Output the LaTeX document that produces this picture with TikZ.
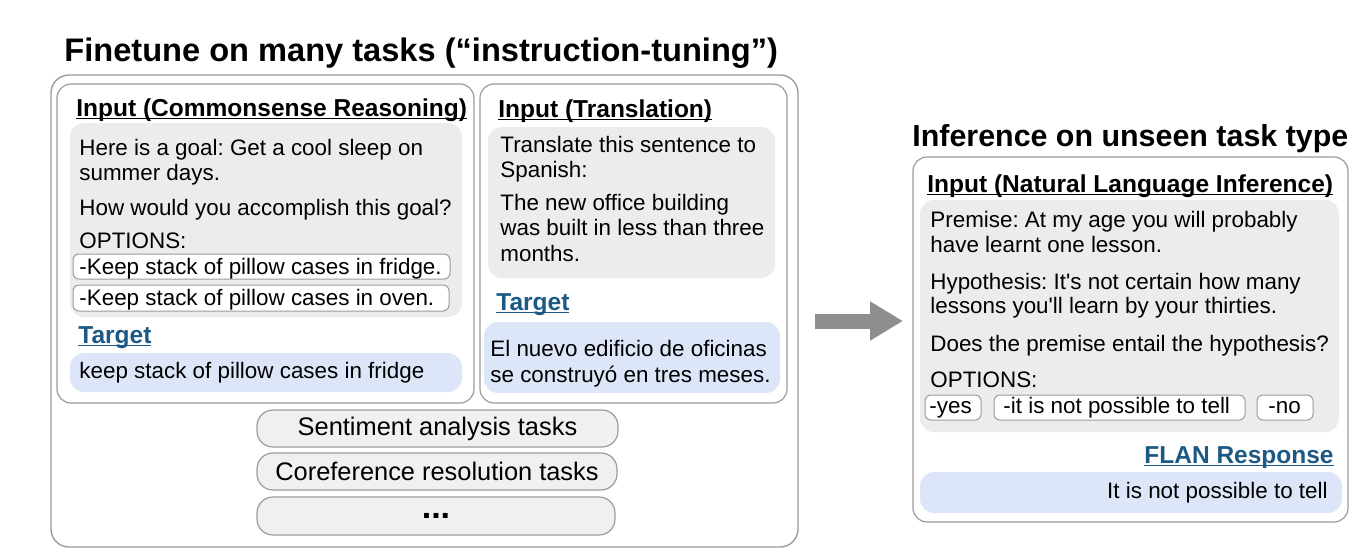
\documentclass[tikz,border=0pt]{standalone}
\usepackage{fontspec}
\setmainfont{Liberation Sans}
\usepackage{tikz}
\usetikzlibrary{fit,arrows.meta}
\frenchspacing
\definecolor{boxgray}{HTML}{ECECEC}
\definecolor{boxblue}{HTML}{DDE6F8}
\definecolor{tgtblue}{HTML}{1C5A85}
\definecolor{edgegray}{HTML}{9C9C9C}
\definecolor{arrgray}{HTML}{8E8E8E}
\newcommand{\ulin}[2][black]{\setbox0\hbox{#2}\rlap{\color{#1}\rule[-1.7pt]{\wd0}{0.75pt}}\box0}
\tikzstyle{outerbox}=[draw=edgegray, line width=0.7pt, fill=white, rounded corners=9pt, inner sep=0pt]
\tikzstyle{inbox}=[draw=edgegray, line width=0.6pt, fill=white, rounded corners=7pt, inner sep=0pt]
\tikzstyle{gr}=[fill=boxgray, rounded corners=7pt, inner sep=0pt]
\tikzstyle{bl}=[fill=boxblue, rounded corners=7pt, inner sep=0pt]
\tikzstyle{opt}=[draw=edgegray, line width=0.5pt, fill=white, rounded corners=3pt, inner sep=0pt]
\tikzstyle{task}=[draw=edgegray, line width=0.6pt, fill=boxgray!80, rounded corners=8pt, inner sep=0pt, font=\fontsize{12.7}{15}\selectfont]
\tikzstyle{txt}=[anchor=base west, inner sep=0pt, font=\fontsize{11.2}{13}\selectfont]
\tikzstyle{hd}=[anchor=base west, inner sep=0pt, font=\fontsize{12.25}{14}\selectfont\bfseries]
\tikzstyle{ttl}=[anchor=base west, inner sep=0pt, font=\bfseries]
\tikzstyle{bigarrow}=[arrgray, line width=7.5pt, -{Triangle[length=16.5pt, width=18.5pt]}]

\begin{document}
\begin{tikzpicture}[x=0.5pt, y=-0.5pt]
        \path[fill=white, use as bounding box] (0, 0) rectangle (1370, 558);

        \node[ttl, font=\fontsize{16.3}{19}\selectfont\bfseries] (ttlL) at (64, 61) {Finetune on many tasks (“instruction-tuning”)};
        \node[outerbox, fit={(51, 75) (798, 547)}] (outer) {};
        \node[inbox, fit={(57, 84) (474, 403)}] (csbox) {};
        \node[inbox, fit={(480, 84) (787, 403)}] (trbox) {};

        \node[hd] (cshd) at (76, 116) {\ulin{Input (Commonsense Reasoning)}};
        \node[gr, fit={(70, 123) (462, 317)}] (csin) {};
        \node[txt] (cs1) at (79, 155) {Here is a goal: Get a cool sleep on};
        \node[txt] (cs2) at (79, 180) {summer days.};
        \node[txt] (cs3) at (79, 215) {How would you accomplish this goal?};
        \node[txt] (cs4) at (79, 248) {OPTIONS:};
        \node[opt, fit={(73, 254) (450, 279)}] (csopA) {};
        \node[opt, fit={(73, 285) (449, 311)}] (csopB) {};
        \node[txt] (csA) at (79, 274) {-Keep stack of pillow cases in fridge.};
        \node[txt] (csB) at (79, 305) {-Keep stack of pillow cases in oven.};
        \node[hd, text=tgtblue] (cstg) at (78, 343) {\ulin[tgtblue]{Target}};
        \node[bl, fit={(70, 353) (462, 392)}] (csout) {};
        \node[txt] (cs5) at (79, 378) {keep stack of pillow cases in fridge};

        \node[hd] (trhd) at (498, 117) {\ulin{Input (Translation)}};
        \node[gr, fit={(488, 127) (775, 278)}] (trin) {};
        \node[txt] (tr1) at (500, 152) {Translate this sentence to};
        \node[txt] (tr2) at (500, 177) {Spanish:};
        \node[txt] (tr3) at (500, 210) {The new office building};
        \node[txt] (tr4) at (500, 235) {was built in less than three};
        \node[txt] (tr5) at (500, 261) {months.};
        \node[hd, text=tgtblue] (trtg) at (496, 310) {\ulin[tgtblue]{Target}};
        \node[bl, fit={(484, 322) (780, 393)}] (trout) {};
        \node[txt] (tr6) at (490, 356) {El nuevo edificio de oficinas};
        \node[txt] (tr7) at (490, 382) {se construyó en tres meses.};

        \node[task, minimum width=180.5pt, minimum height=18.5pt] (sa) at (437.5, 428.5) {Sentiment analysis tasks};
        \node[task, minimum width=180pt, minimum height=18.5pt] (cr) at (437, 471.5) {Coreference resolution tasks};
        \node[task, minimum width=179pt, minimum height=19pt, font=\fontsize{17}{17}\selectfont\bfseries] (more) at (436, 516) {...};

        \coordinate (as) at (815, 321);
        \coordinate (ae) at (903, 321);
        \draw[bigarrow] (as) -- (ae);

        \node[ttl, font=\fontsize{15.2}{18}\selectfont\bfseries] (ttlR) at (912, 146) {Inference on unseen task type};
        \node[inbox, fit={(913, 157) (1348, 522)}] (nlbox) {};
        \node[hd] (nlhd) at (927, 192) {\ulin{Input (Natural Language Inference)}};
        \node[gr, fit={(920, 200) (1339, 432)}] (nlin) {};
        \node[txt] (nl1) at (930, 227) {Premise: At my age you will probably};
        \node[txt] (nl2) at (930, 252) {have learnt one lesson.};
        \node[txt] (nl3) at (930, 289) {Hypothesis: It\textquotesingle s not certain how many};
        \node[txt] (nl4) at (930, 313) {lessons you\textquotesingle ll learn by your thirties.};
        \node[txt] (nl5) at (930, 351) {Does the premise entail the hypothesis?};
        \node[txt] (nl6) at (930, 387) {OPTIONS:};
        \node[opt, fit={(925, 395) (981, 420)}] (nlopA) {};
        \node[opt, fit={(994, 395) (1245, 420)}] (nlopB) {};
        \node[opt, fit={(1257, 395) (1313, 420)}] (nlopC) {};
        \node[txt] (nlA) at (929, 413) {-yes};
        \node[txt] (nlB) at (1003, 413) {-it is not possible to tell};
        \node[txt] (nlC) at (1268, 413) {-no};
        \node[hd, anchor=base east, text=tgtblue] (nltg) at (1334, 463) {\ulin[tgtblue]{FLAN Response}};
        \node[bl, fit={(920, 472) (1342, 513)}] (nlout) {};
        \node[txt, anchor=base east] (nl7) at (1328, 498) {It is not possible to tell};
\end{tikzpicture}
\end{document}
